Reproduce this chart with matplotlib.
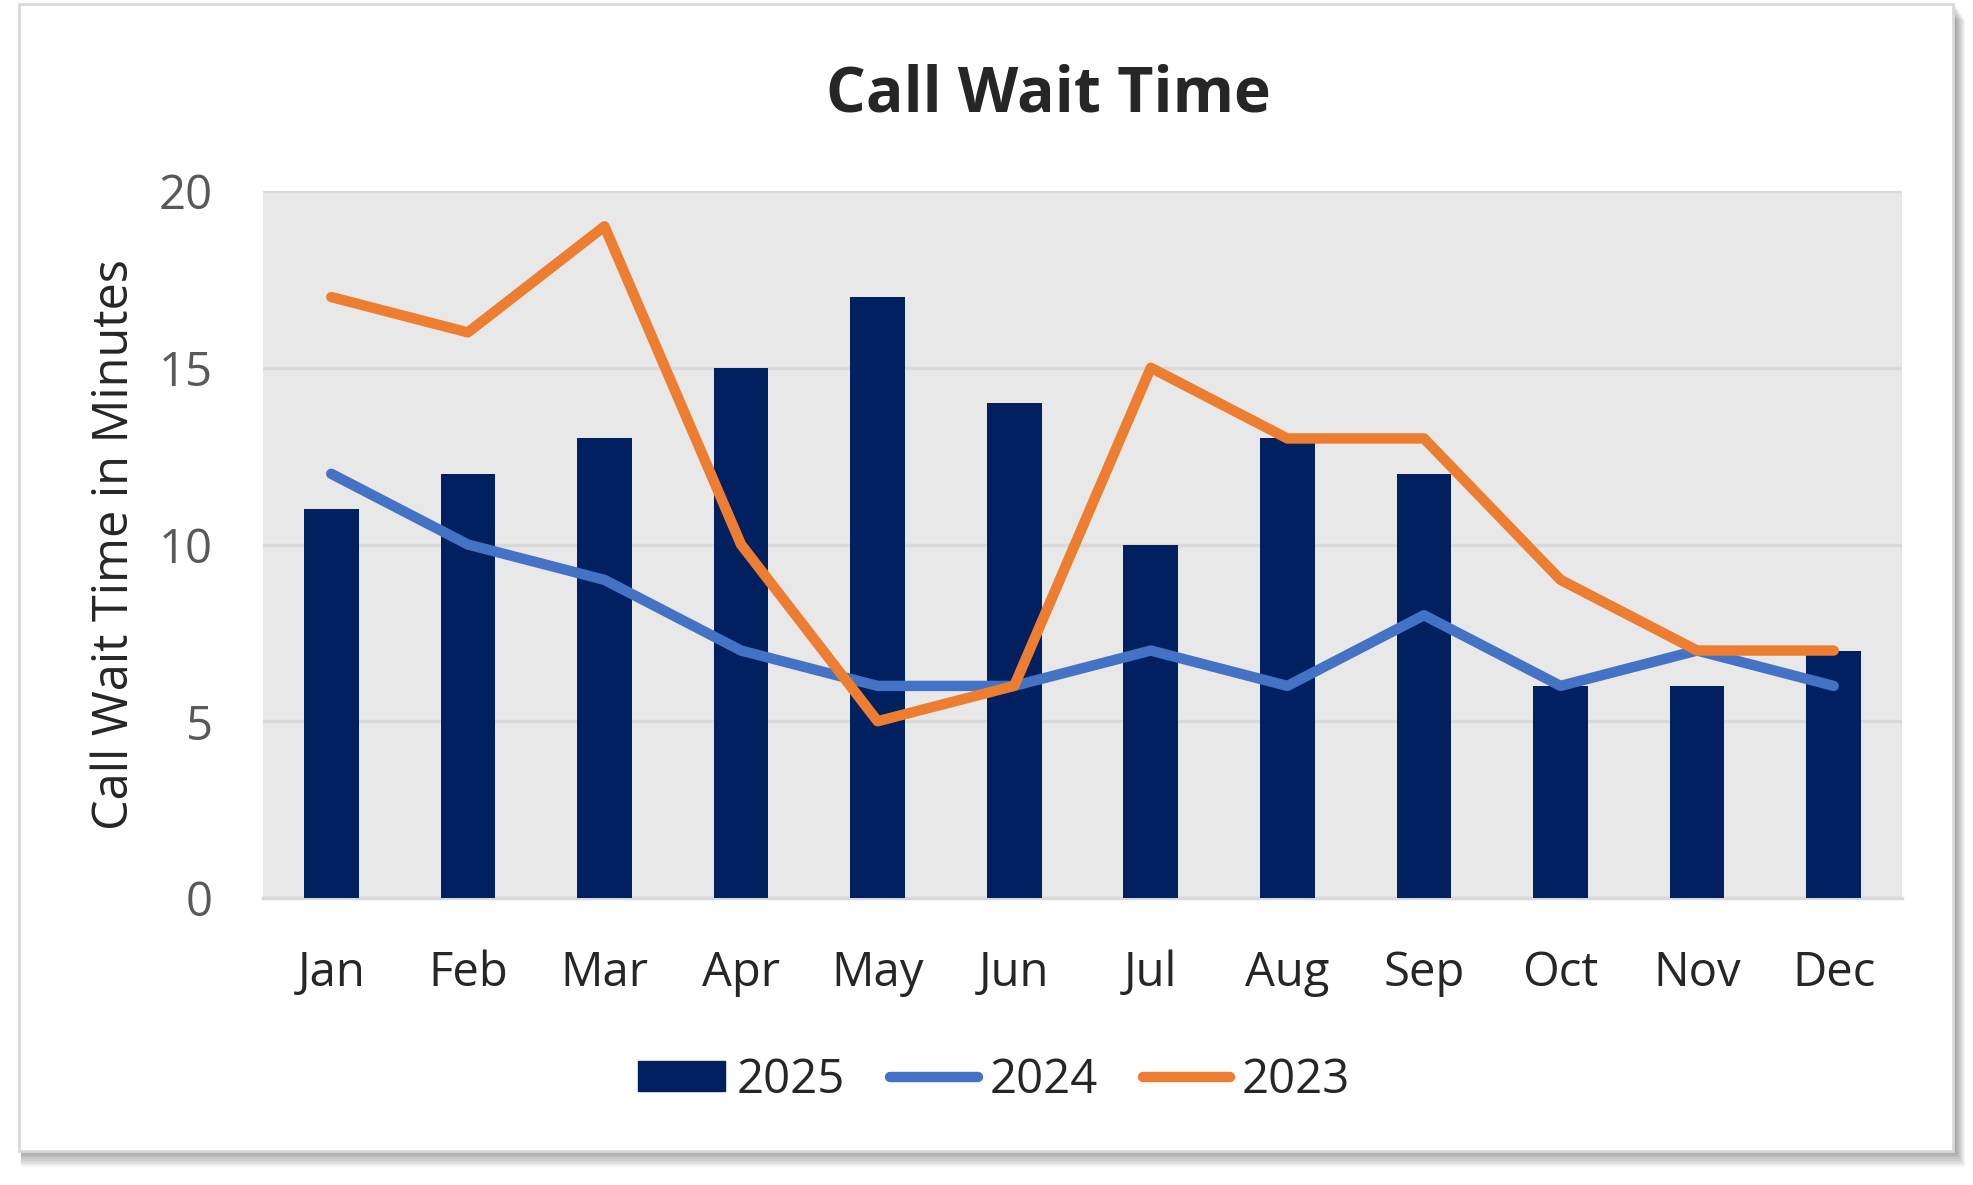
import matplotlib.pyplot as plt
from matplotlib.patches import Rectangle
from matplotlib.lines import Line2D
import numpy as np

plt.rcParams['font.family'] = ['Open Sans', 'DejaVu Sans']

# data
months = ['Jan', 'Feb', 'Mar', 'Apr', 'May', 'Jun', 'Jul', 'Aug', 'Sep', 'Oct', 'Nov', 'Dec']
wait_2025 = [11, 12, 13, 15, 17, 14, 10, 13, 12, 6, 6, 7]
wait_2024 = [12, 10, 9, 7, 6, 6, 7, 6, 8, 6, 7, 6]
wait_2023 = [17, 16, 19, 10, 5, 6, 15, 13, 13, 9, 7, 7]
y_ticks = [0, 5, 10, 15, 20]

W, H = 1973, 1185
fig = plt.figure(figsize=(W / 100, H / 100), dpi=100)

# card with a soft shadow
x0, y0, x1, y1 = 19 / W, 1 - 1151 / H, 1953 / W, 1 - 4 / H
for i in range(10):
    off = (i + 1) * 1.6
    fig.patches.append(Rectangle((x0 + 2 / W, y0 - off / H), x1 - x0 + off * 0.6 / W, y1 - y0,
                                 transform=fig.transFigure, facecolor='black',
                                 alpha=0.04, edgecolor='none', zorder=0))
fig.patches.append(Rectangle((x0, y0), x1 - x0, y1 - y0, transform=fig.transFigure,
                             facecolor='white', edgecolor='#D9D9D9', linewidth=2, zorder=1))

ax = fig.add_axes([263 / W, 1 - 898 / H, (1902 - 263) / W, (898 - 191) / H])
ax.set_zorder(2)
ax.set_facecolor('#E8E8E8')

lw = 7.5
x = np.arange(len(months))
ax.bar(x, wait_2025, width=0.4, color='#002060', label='2025', zorder=3)
ax.plot(x, wait_2024, color='#4472C4', lw=lw, solid_capstyle='round',
        solid_joinstyle='round', label='2024', zorder=4)
ax.plot(x, wait_2023, color='#ED7D31', lw=lw, solid_capstyle='round',
        solid_joinstyle='round', label='2023', zorder=5)

ax.set_xlim(-0.5, len(months) - 0.5)
ax.set_ylim(0, 20)
ax.set_yticks(y_ticks)
ax.set_xticks(x)
ax.set_xticklabels(months)
ax.grid(axis='y', color='#D9D9D9', lw=2.5, zorder=1)
ax.set_axisbelow(True)
for s in ['top', 'right', 'left']:
    ax.spines[s].set_visible(False)
ax.spines['bottom'].set_color('#D9D9D9')
ax.spines['bottom'].set_linewidth(2.5)
ax.tick_params(axis='y', length=0, pad=36, labelsize=34, labelcolor='#595959')
ax.tick_params(axis='x', length=0, pad=37, labelsize=34, labelcolor='#262626')

ax.set_ylabel('Call Wait Time in Minutes', fontsize=35, color='#262626')
ax.yaxis.set_label_coords(-0.075, 0.5)

fig.text(1048 / W, 1 - 112 / H, 'Call Wait Time', ha='center', va='baseline',
         fontsize=45, fontweight='bold', color='#262626')

handles = [Rectangle((0, 0), 1, 1, color='#002060'),
           Line2D([], [], color='#4472C4', lw=lw, solid_capstyle='round'),
           Line2D([], [], color='#ED7D31', lw=lw, solid_capstyle='round')]
fig.legend(handles, ['2025', '2024', '2023'], loc='center', ncol=3,
           bbox_to_anchor=(994 / W, 1 - 1080 / H), frameon=False, fontsize=34,
           labelcolor='#262626', handlelength=1.85, handleheight=0.6,
           handletextpad=0.25, columnspacing=0.95)

fig.savefig('out.png', dpi=100)
